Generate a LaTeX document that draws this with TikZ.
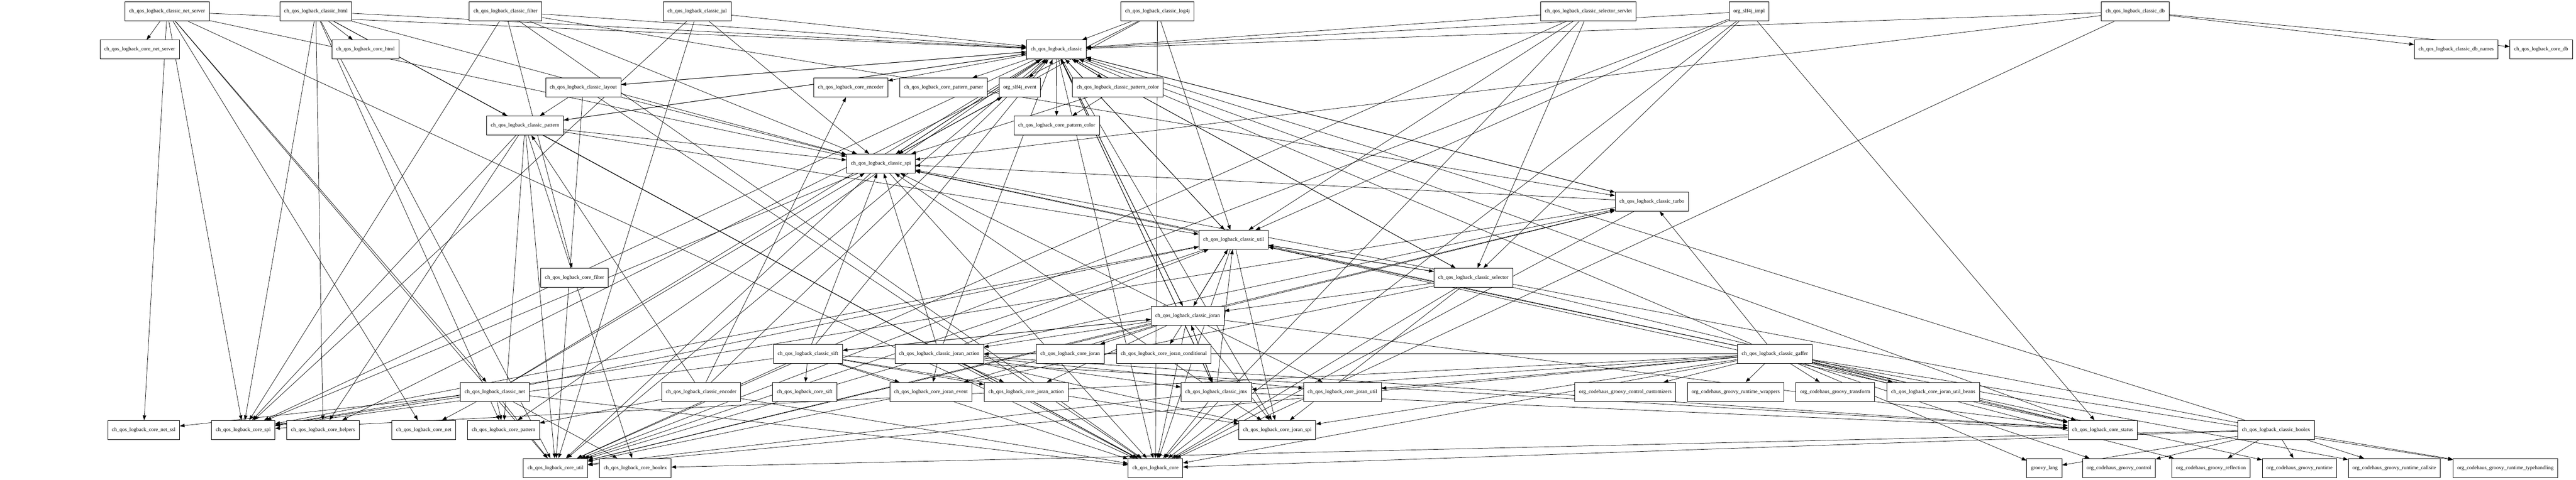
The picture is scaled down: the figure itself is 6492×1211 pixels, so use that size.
\documentclass[tikz,border=0pt]{standalone}
\usepackage{fontspec}
\setmainfont{Liberation Serif}
\usetikzlibrary{arrows.meta}
\pgfdeclarelayer{bg}
\pgfsetlayers{bg,main}

\begin{document}
\begin{tikzpicture}[x=0.75pt, y=-0.75pt, font=\fontsize{10}{12}\selectfont]
            \useasboundingbox (0,0) rectangle (6492,1211);
            \begin{scope}[every node/.style={draw, fill=white, line width=.8pt, minimum height=36pt, inner xsep=8pt}]
            % row 1
            \node (clnetserver) at (421,29) {ch\_qos\_logback\_classic\_net\_server};
            \node (clhtml) at (796,29) {ch\_qos\_logback\_classic\_html};
            \node (clfilter) at (1274,29) {ch\_qos\_logback\_classic\_filter};
            \node (cljul) at (1757,29) {ch\_qos\_logback\_classic\_jul};
            \node (cllogfourj) at (2917,29) {ch\_qos\_logback\_classic\_log4j};
            \node (clselservlet) at (4003,29) {ch\_qos\_logback\_classic\_selector\_servlet};
            \node (slfimpl) at (4408,29) {org\_slf4j\_impl};
            \node (cldb) at (5381,29) {ch\_qos\_logback\_classic\_db};
            % row 2
            \node (conetserver) at (352,125) {ch\_qos\_logback\_core\_net\_server};
            \node (cohtml) at (921,125) {ch\_qos\_logback\_core\_html};
            \node (classic) at (2662,125) {ch\_qos\_logback\_classic};
            \node (cldbnames) at (6190,125) {ch\_qos\_logback\_classic\_db\_names};
            \node (codb) at (6404,125) {ch\_qos\_logback\_core\_db};
            % rows 3 and 4
            \node (cllayout) at (1470,221) {ch\_qos\_logback\_classic\_layout};
            \node (coencoder) at (2144,221) {ch\_qos\_logback\_core\_encoder};
            \node (copatparser) at (2378,221) {ch\_qos\_logback\_core\_pattern\_parser};
            \node (slfevent) at (2570,221) {org\_slf4j\_event};
            \node (clpatcolor) at (2817,221) {ch\_qos\_logback\_classic\_pattern\_color};
            \node (clpattern) at (1323,317) {ch\_qos\_logback\_classic\_pattern};
            \node (copatcolor) at (2663,317) {ch\_qos\_logback\_core\_pattern\_color};
            % rows 5 to 9
            \node (clspi) at (2220,413) {ch\_qos\_logback\_classic\_spi};
            \node (clturbo) at (4163,509) {ch\_qos\_logback\_classic\_turbo};
            \node (clutil) at (3109,605) {ch\_qos\_logback\_classic\_util};
            \node (cofilter) at (1448,701) {ch\_qos\_logback\_core\_filter};
            \node (clselector) at (3713,701) {ch\_qos\_logback\_classic\_selector};
            \node (cljoran) at (2993,797) {ch\_qos\_logback\_classic\_joran};
            % row 10
            \node (clsift) at (2036,893) {ch\_qos\_logback\_classic\_sift};
            \node (cljoranaction) at (2367,893) {ch\_qos\_logback\_classic\_joran\_action};
            \node (cojoran) at (2697,893) {ch\_qos\_logback\_core\_joran};
            \node (cojorancond) at (2933,893) {ch\_qos\_logback\_core\_joran\_conditional};
            \node (clgaffer) at (4473,893) {ch\_qos\_logback\_classic\_gaffer};
            % row 11
            \node (clnet) at (1247,989) {ch\_qos\_logback\_classic\_net};
            \node (clencoder) at (1767,989) {ch\_qos\_logback\_classic\_encoder};
            \node (cosift) at (2028,989) {ch\_qos\_logback\_core\_sift};
            \node (cojoranevent) at (2346,989) {ch\_qos\_logback\_core\_joran\_event};
            \node (cojoranaction) at (2586,989) {ch\_qos\_logback\_core\_joran\_action};
            \node (cljmx) at (3065,989) {ch\_qos\_logback\_classic\_jmx};
            \node (cojoranutil) at (3383,989) {ch\_qos\_logback\_core\_joran\_util};
            \node (gcustomizers) at (4096,989) {org\_codehaus\_groovy\_control\_customizers};
            \node (gwrappers) at (4374,989) {org\_codehaus\_groovy\_runtime\_wrappers};
            \node (gtransform) at (4625,989) {org\_codehaus\_groovy\_transform};
            \node (cobeans) at (4872,989) {ch\_qos\_logback\_core\_joran\_util\_beans};
            % row 12
            \node (conetssl) at (362,1085) {ch\_qos\_logback\_core\_net\_ssl};
            \node (cospi) at (613,1085) {ch\_qos\_logback\_core\_spi};
            \node (cohelpers) at (814,1085) {ch\_qos\_logback\_core\_helpers};
            \node (conet) at (1068,1085) {ch\_qos\_logback\_core\_net};
            \node (copattern) at (1269,1085) {ch\_qos\_logback\_core\_pattern};
            \node (cojoranspi) at (3219,1085) {ch\_qos\_logback\_core\_joran\_spi};
            \node (costatus) at (5299,1085) {ch\_qos\_logback\_core\_status};
            \node (clboolex) at (5736,1085) {ch\_qos\_logback\_classic\_boolex};
            % row 13
            \node (coutil) at (1400,1181) {ch\_qos\_logback\_core\_util};
            \node (coboolex) at (1601,1181) {ch\_qos\_logback\_core\_boolex};
            \node (core) at (2912,1181) {ch\_qos\_logback\_core};
            \node (glang) at (5152,1181) {groovy\_lang};
            \node (gcontrol) at (5340,1181) {org\_codehaus\_groovy\_control};
            \node (greflection) at (5572,1181) {org\_codehaus\_groovy\_reflection};
            \node (gruntime) at (5795,1181) {org\_codehaus\_groovy\_runtime};
            \node (gcallsite) at (6034,1181) {org\_codehaus\_groovy\_runtime\_callsite};
            \node (gtypehandling) at (6314,1181) {org\_codehaus\_groovy\_runtime\_typehandling};
            \end{scope}
            \begin{pgfonlayer}{bg}
            \begin{scope}[every edge/.style={draw=black, line width=.7pt, -{Triangle[length=9pt, width=6.5pt]}}]
            \draw (clnetserver) edge (conetserver) edge (classic) edge (clnet) edge (clspi) edge (conetssl) edge (cospi) edge (conet) edge (core) edge (coutil);
            \draw (clhtml) edge (cohtml) edge (classic) edge (clspi) edge (clpattern) edge (cohelpers) edge (copattern) edge (core) edge (cospi) edge (coutil);
            \draw (clfilter) edge (cofilter) edge (classic) edge (clspi) edge (clturbo) edge (cospi) edge (core);
            \draw (cljul) edge (classic) edge (clspi) edge (cospi) edge (coutil);
            \draw (cllogfourj) edge (classic) edge (clspi) edge (core) edge (cohelpers) edge (clutil);
            \draw (clselservlet) edge (classic) edge (clselector) edge (clutil) edge (core) edge (coutil);
            \draw (slfimpl) edge (classic) edge (clselector) edge (clutil) edge (costatus) edge (coutil) edge (core);
            \draw (cldb) edge (cldbnames) edge (codb) edge (classic) edge (clspi) edge (core);
            \draw (classic) edge (coencoder) edge (copatparser) edge (slfevent) edge (clpatcolor) edge (copatcolor) edge (cllayout) edge (clpattern) edge (clspi) edge (clutil) edge (clturbo) edge (cljoran) edge (cljmx) edge (clselector) edge (core) edge (cospi) edge (coutil) edge (costatus) edge (cojoranspi) edge (copattern);
            \draw (clpatcolor) edge (classic) edge (copatcolor) edge (clspi);
            \draw (cllayout) edge (classic) edge (clpattern) edge (clspi) edge (core) edge (coutil);
            \draw (clpattern) edge (classic) edge (clspi) edge (clutil) edge (copattern) edge (coutil) edge (core) edge (cospi) edge (cohelpers) edge (coboolex);
            \draw (clspi) edge (classic) edge (slfevent) edge (core) edge (cospi) edge (coutil);
            \draw (clturbo) edge (classic) edge (clspi) edge (core) edge (cospi) edge (coutil);
            \draw (clutil) edge (classic) edge (clspi) edge (cljoran) edge (clselector) edge (core) edge (cospi) edge (coutil) edge (costatus) edge (cojoranspi);
            \draw (clselector) edge (classic) edge (clutil) edge (cljoran) edge (core) edge (cojoranspi) edge (coutil) edge (costatus);
            \draw (cljoran) edge (classic) edge (clutil) edge (clspi) edge (clturbo) edge (cljoranaction) edge (clsift) edge (cljmx) edge (cojoran) edge (cojorancond) edge (cojoranspi) edge (cojoranaction) edge (cojoranevent) edge (cojoranutil) edge (core) edge (costatus) edge (coutil);
            \draw (cljoranaction) edge (classic) edge (clutil) edge (clspi) edge (cljmx) edge (clturbo) edge (cojoranaction) edge (cojoranspi) edge (cojoranevent) edge (core) edge (coutil) edge (costatus) edge (cojoranutil);
            \draw (clsift) edge (cosift) edge (classic) edge (clspi) edge (cljoran) edge (core) edge (cospi) edge (cojoranevent) edge (cojoranspi) edge (cojoranaction) edge (coutil) edge (costatus);
            \draw (clgaffer) edge (classic) edge (clspi) edge (clutil) edge (clturbo) edge (cljmx) edge (cljoranaction) edge (core) edge (cospi) edge (costatus) edge (cojoranutil) edge (cobeans) edge (cojoranspi) edge (coutil) edge (glang) edge (gcontrol) edge (gcustomizers) edge (gwrappers) edge (gtransform) edge (greflection) edge (gruntime) edge (gcallsite) edge (gtypehandling);
            \draw (clnet) edge (classic) edge (clspi) edge (clutil) edge (core) edge (conet) edge (conetssl) edge (cospi) edge (coutil) edge (coboolex) edge (copattern);
            \draw (clencoder) edge (clpattern) edge (copattern) edge (coencoder) edge (core) edge (classic);
            \draw (cljmx) edge (classic) edge (clutil) edge (cljoran) edge (clspi) edge (core) edge (cojoranspi) edge (coutil) edge (costatus);
            \draw (clboolex) edge (classic) edge (clspi) edge (coboolex) edge (core) edge (glang) edge (gcontrol) edge (greflection) edge (gruntime) edge (gcallsite) edge (gtypehandling);
            \end{scope}
            \end{pgfonlayer}
\end{tikzpicture}
\end{document}
